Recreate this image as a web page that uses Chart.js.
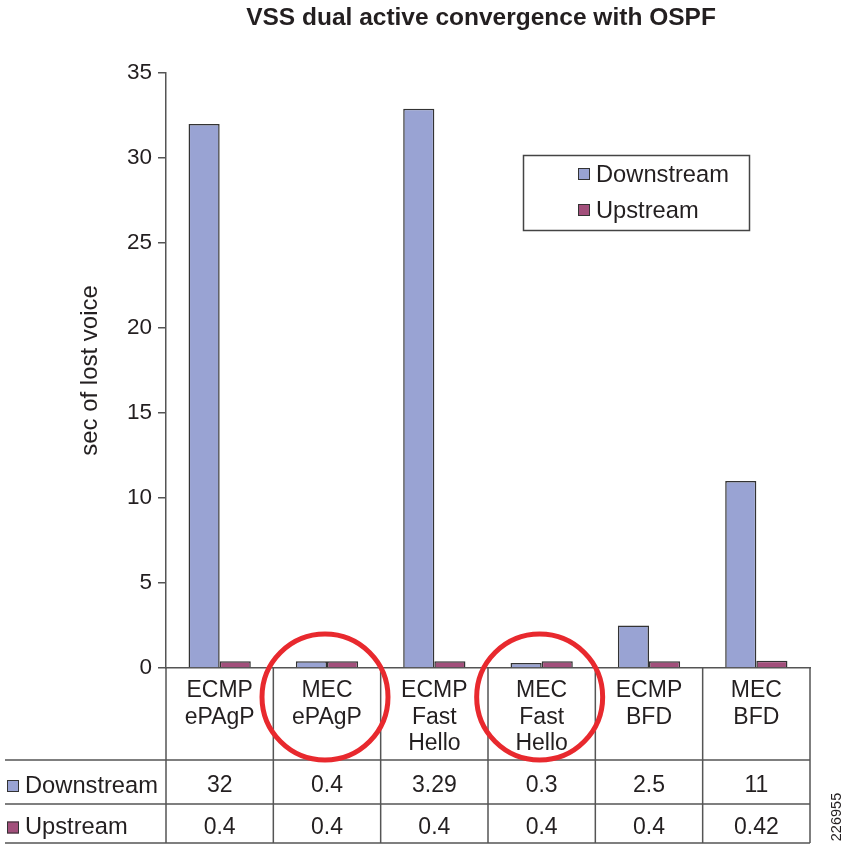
<!DOCTYPE html>
<html>
<head>
<meta charset="utf-8">
<script src="https://cdn.jsdelivr.net/npm/chart.js@4"></script>
<style>
  html, body { margin: 0; padding: 0; background: #fff; }
  #wrap { width: 843px; height: 844px; }
</style>
</head>
<body>
<div id="wrap"><canvas id="chart" width="843" height="844"></canvas></div>
<script>
// data
const categories = [['ECMP', 'ePAgP'], ['MEC', 'ePAgP'], ['ECMP', 'Fast', 'Hello'], ['MEC', 'Fast', 'Hello'], ['ECMP', 'BFD'], ['MEC', 'BFD']];
const downstream = [32, 0.4, 32.9, 0.3, 2.5, 11];
const upstream = [0.4, 0.4, 0.4, 0.4, 0.4, 0.42];
// the printed table (the 3rd downstream value is printed 3.29 in the source)
const downstreamTable = ['32', '0.4', '3.29', '0.3', '2.5', '11'];
const upstreamTable = ['0.4', '0.4', '0.4', '0.4', '0.4', '0.42'];
const yTicks = [0, 5, 10, 15, 20, 25, 30, 35];
const circled = [1, 3];

const FONT = 'Liberation Sans, Arial, Helvetica, sans-serif';
const TXT = '#231f20';
const LINE = '#555';
const blue = '#99a3d3';
const plum = '#a24f7b';

// title, legend box, data table, red circles, figure number
const extras = {
  id: 'extras',
  afterDraw(chart) {
    const ctx = chart.ctx;
    const x = chart.scales.x;
    const area = chart.chartArea;
    const n = categories.length;
    const colW = (x.right - x.left) / n;
    const rowTop = 760, rowMid = 804, rowBot = 843;
    const y1 = (rowTop + rowMid) / 2 + 4, y2 = (rowMid + rowBot) / 2 + 4;
    ctx.save();

    // title
    ctx.fillStyle = TXT;
    ctx.font = 'bold 24.5px ' + FONT;
    ctx.textAlign = 'center';
    ctx.textBaseline = 'middle';
    ctx.fillText('VSS dual active convergence with OSPF', 481, 18);

    // legend
    ctx.strokeStyle = '#444';
    ctx.lineWidth = 1.5;
    ctx.strokeRect(523.5, 155.5, 226, 75);
    const sets = chart.data.datasets;
    ctx.font = '23.7px ' + FONT;
    ctx.textAlign = 'left';
    sets.forEach((ds, i) => {
      const cy = 174 + i * 36;
      ctx.fillStyle = ds.backgroundColor;
      ctx.fillRect(578, cy - 6, 12, 12);
      ctx.lineWidth = 1;
      ctx.strokeStyle = '#333';
      ctx.strokeRect(578.5, cy - 5.5, 11, 11);
      ctx.fillStyle = TXT;
      ctx.fillText(ds.label, 596, cy + 1);
    });

    // table grid
    ctx.strokeStyle = LINE;
    ctx.lineWidth = 1.5;
    ctx.beginPath();
    [rowTop, rowMid, rowBot].forEach(y => { ctx.moveTo(5, y); ctx.lineTo(x.right, y); });
    for (let i = 0; i <= n; i++) {
      const bx = x.left + i * colW;
      ctx.moveTo(bx, area.bottom);
      ctx.lineTo(bx, rowBot);
    }
    ctx.stroke();

    // category labels and table values
    ctx.fillStyle = TXT;
    ctx.textAlign = 'center';
    ctx.font = '23px ' + FONT;
    categories.forEach((lines, i) => {
      const cx = x.getPixelForValue(i);
      lines.forEach((s, k) => ctx.fillText(s, cx, 691 + k * 26.5));
      ctx.fillText(downstreamTable[i], cx, y1);
      ctx.fillText(upstreamTable[i], cx, y2);
    });

    // row labels with swatches
    ctx.textAlign = 'left';
    ctx.font = '23.7px ' + FONT;
    [[sets[0], y1], [sets[1], y2]].forEach(([ds, cy]) => {
      ctx.fillStyle = ds.backgroundColor;
      ctx.fillRect(7, cy - 6, 12, 12);
      ctx.lineWidth = 1;
      ctx.strokeStyle = '#333';
      ctx.strokeRect(7.5, cy - 5.5, 11, 11);
      ctx.fillStyle = TXT;
      ctx.fillText(ds.label, 25, cy);
    });

    // red circles
    ctx.strokeStyle = '#e8292e';
    ctx.lineWidth = 5;
    circled.forEach(i => {
      const cx = x.getPixelForValue(i) - 2;
      ctx.beginPath();
      ctx.ellipse(cx, 697, 63, 63, 0, 0, Math.PI * 2);
      ctx.stroke();
    });

    // figure number
    ctx.translate(837, 817);
    ctx.rotate(-Math.PI / 2);
    ctx.fillStyle = TXT;
    ctx.font = '14.5px ' + FONT;
    ctx.textAlign = 'center';
    ctx.fillText('226955', 0, 0);
    ctx.restore();
  }
};

new Chart(document.getElementById('chart'), {
  type: 'bar',
  data: {
    labels: categories,
    datasets: [
      { label: 'Downstream', data: downstream, backgroundColor: blue, borderColor: '#333', borderWidth: 1.5 },
      { label: 'Upstream', data: upstream, backgroundColor: plum, borderColor: '#333', borderWidth: 1.5 }
    ]
  },
  options: {
    responsive: false,
    animation: false,
    events: [],
    layout: { padding: { top: 73, right: 33, left: 0, bottom: 0 } },
    datasets: { bar: { categoryPercentage: 0.58, barPercentage: 1.0 } },
    plugins: { legend: { display: false }, title: { display: false }, tooltip: { enabled: false } },
    scales: {
      x: {
        offset: true,
        grid: { display: false },
        ticks: { display: false },
        border: { display: true, color: LINE, width: 1.5 },
        afterFit(s) { s.height = 176; }
      },
      y: {
        min: 0,
        max: 35,
        afterBuildTicks(s) { s.ticks = yTicks.map(v => ({ value: v })); },
        ticks: { color: TXT, font: { family: FONT, size: 22.5 }, padding: 6 },
        grid: { drawOnChartArea: false, drawTicks: true, tickLength: 8, color: LINE, lineWidth: 1.5 },
        border: { display: true, color: LINE, width: 1.5 },
        title: { display: true, text: 'sec of lost voice', color: TXT, font: { family: FONT, size: 24 }, padding: { top: 76, bottom: 0 } },
        afterFit(s) { s.width = 166; }
      }
    }
  },
  plugins: [extras]
});
</script>
</body>
</html>
